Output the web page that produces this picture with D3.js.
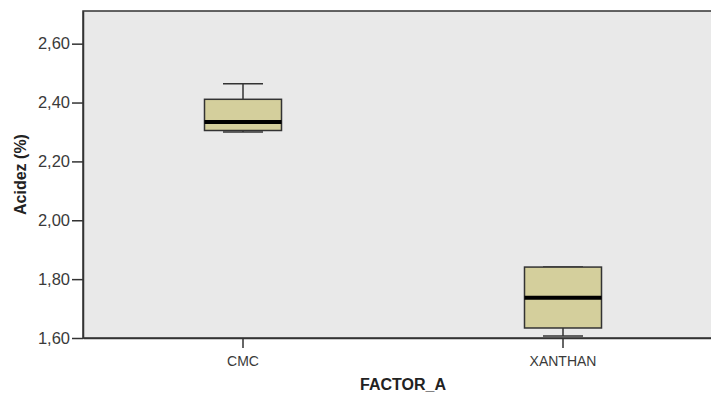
<!DOCTYPE html>
<html>
<head>
<meta charset="utf-8">
<script src="https://cdn.jsdelivr.net/npm/d3@7"></script>
<style>
  html, body { margin: 0; padding: 0; background: #fff; overflow: hidden; }
  svg { display: block; font-family: Arial, "Liberation Sans", sans-serif; }
</style>
</head>
<body>
<svg id="chart" width="711" height="394"></svg>
<script>
// Box-plot summaries of acidity (%) by thickener
const categories = ["CMC", "XANTHAN"];
const whiskerLow  = [2.300, 1.607];
const q1          = [2.305, 1.634];
const median      = [2.334, 1.737];
const q3          = [2.411, 1.841];
const whiskerHigh = [2.464, 1.841];
const yTicks = [1.60, 1.80, 2.00, 2.20, 2.40, 2.60];

const svg = d3.select("#chart");
const margin = { left: 83, top: 11, bottom: 338 };
const plotRight = 723;

const x = d3.scaleBand().domain(categories).range([margin.left, plotRight]).padding(0);
const y = d3.scaleLinear().domain([1.6, 2.711]).range([margin.bottom, margin.top]);

// plot background
svg.append("rect")
  .attr("x", margin.left).attr("y", margin.top)
  .attr("width", plotRight - margin.left).attr("height", margin.bottom - margin.top)
  .attr("fill", "#e9e9e9").attr("stroke", "#333").attr("stroke-width", 1.5);

const fmt = d => d3.format(".2f")(d).replace(".", ",");

// y axis
const yAxis = svg.append("g")
  .attr("transform", `translate(${margin.left},0)`)
  .call(d3.axisLeft(y).tickValues(yTicks).tickFormat(fmt).tickSize(11).tickSizeOuter(0).tickPadding(2));
yAxis.select(".domain").attr("stroke", "#333").attr("stroke-width", 1.5);
yAxis.selectAll(".tick line").attr("stroke", "#333").attr("stroke-width", 1.5);
yAxis.selectAll(".tick text").attr("fill", "#3a3a3a").style("font-size", "16.5px");

// x axis
const xAxis = svg.append("g")
  .attr("transform", `translate(0,${margin.bottom})`)
  .call(d3.axisBottom(x).tickSize(10).tickPadding(8).tickSizeOuter(0));
xAxis.select(".domain").attr("stroke", "#333").attr("stroke-width", 1.5);
xAxis.selectAll(".tick line").attr("stroke", "#333").attr("stroke-width", 1.5);
xAxis.selectAll(".tick text").attr("fill", "#3a3a3a").style("font-size", "14px");

// boxes
const boxW = 77, capW = 40;
const g = svg.append("g");
categories.forEach((c, i) => {
  const cx = x(c) + x.bandwidth() / 2;
  const line = (x1, y1, x2, y2, w, col) => g.append("line")
    .attr("x1", x1).attr("y1", y1).attr("x2", x2).attr("y2", y2)
    .attr("stroke", col || "#333").attr("stroke-width", w);
  // whiskers
  line(cx, y(whiskerHigh[i]), cx, y(q3[i]), 1.5);
  line(cx, y(whiskerLow[i]), cx, y(q1[i]), 1.5);
  line(cx - capW / 2, y(whiskerHigh[i]), cx + capW / 2, y(whiskerHigh[i]), 1.5);
  line(cx - capW / 2, y(whiskerLow[i]), cx + capW / 2, y(whiskerLow[i]), 1.5);
  // box
  g.append("rect")
    .attr("x", cx - boxW / 2).attr("y", y(q3[i]))
    .attr("width", boxW).attr("height", y(q1[i]) - y(q3[i]))
    .attr("fill", "#d4cf9c").attr("stroke", "#333").attr("stroke-width", 1.5);
  // median
  line(cx - boxW / 2, y(median[i]), cx + boxW / 2, y(median[i]), 4, "#000");
});

// axis titles
svg.append("text")
  .attr("x", (margin.left + plotRight) / 2).attr("y", 390)
  .attr("text-anchor", "middle").attr("font-weight", "bold").attr("fill", "#222")
  .style("font-size", "16px").text("FACTOR_A");

svg.append("text")
  .attr("transform", `translate(26,${(margin.top + margin.bottom) / 2}) rotate(-90)`)
  .attr("text-anchor", "middle").attr("font-weight", "bold").attr("fill", "#222")
  .style("font-size", "16px").text("Acidez (%)");
</script>
</body>
</html>
